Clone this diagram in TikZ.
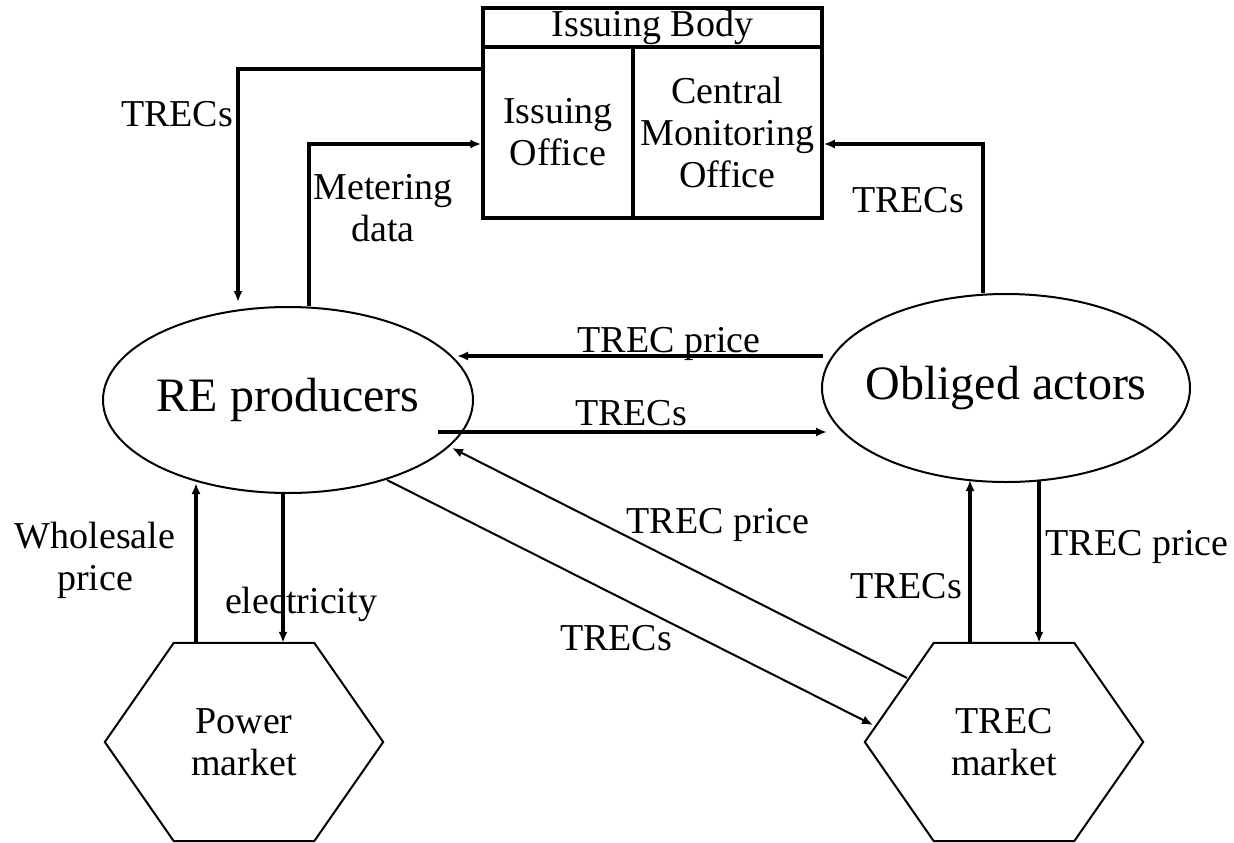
\documentclass[tikz,border=0pt]{standalone}
\usepackage{fontspec}
\setmainfont{Liberation Serif}
\usetikzlibrary{arrows.meta,shapes.geometric}
\begin{document}
\begin{tikzpicture}[x=1pt,y=-1pt,
  lbl/.style={font=\fontsize{38}{42}\selectfont, inner sep=0pt, align=center},
  cell/.style={draw, line width=3.5pt, rectangle, inner sep=0pt, align=center,
    font=\fontsize{38}{42}\selectfont},
  actor/.style={draw, line width=2pt, ellipse, inner sep=0pt,
    label={[font=\fontsize{48}{52}\selectfont, inner sep=0pt]center:#1}},
  mkt/.style={rectangle, inner sep=0pt, align=center, minimum width=278pt,
    minimum height=198pt, font=\fontsize{38}{42}\selectfont},
  hexline/.style={draw, line width=2pt, line join=miter},
  arr/.style={line width=3.5pt, -{Latex[length=11pt,width=9pt]}},
  darr/.style={line width=2pt, -{Latex[length=11pt,width=9pt]}}
]
\useasboundingbox (0,0) rectangle (1234,843);

% Issuing Body
\node[cell, minimum width=339pt, minimum height=210pt] (ib) at (652.5,113) {};
\node[cell, minimum width=339pt, minimum height=39pt] (ibhead) at (652.5,27.5) {Issuing Body};
\node[cell, minimum width=150pt, minimum height=171pt] (io) at (558,132.5) {Issuing\\Office};
\node[cell, minimum width=189pt, minimum height=171pt] (cmo) at (727.5,132.5) {Central\\Monitoring\\Office};

% Actors
\node[actor={RE producers}, minimum width=370pt, minimum height=186pt] (re) at (288,400) {};
\node[actor={Obliged actors}, minimum width=368pt, minimum height=188pt] (obl) at (1006,388) {};

% Markets
\node[mkt] (pm) at (244,742) {Power\\market};
\node[mkt] (tm) at (1004,742) {TREC\\market};
\foreach \m in {pm,tm}{
  \draw[hexline] ([xshift=69pt]\m.north west) -- ([xshift=-69pt]\m.north east)
    -- (\m.east) -- ([xshift=-69pt]\m.south east) -- ([xshift=69pt]\m.south west)
    -- (\m.west) -- cycle;
}

% Connectors to/from Issuing Body
\draw[arr] ([yshift=44pt]ib.west) -| ([xshift=-50pt,yshift=4pt]re.north);
\draw[arr] ([xshift=21pt]re.north) |- ([yshift=-31pt]ib.west);
\draw[arr] ([xshift=-23pt]obl.north) |- ([yshift=-31pt]ib.east);

% Between actors
\draw[arr] ([shift={(-183pt,32pt)}]obl.center) -- ([shift={(169pt,44pt)}]re.center);
\draw[arr] ([shift={(150pt,-32pt)}]re.center) -- ([shift={(-179pt,-44pt)}]obl.center);

% Diagonals
\draw[darr] ([shift={(-97pt,64pt)}]tm.center) -- ([shift={(164pt,-48pt)}]re.center);
\draw[darr] ([shift={(99pt,-80pt)}]re.center) -- ([shift={(-131pt,17pt)}]tm.center);

% Power market
\draw[arr] ([xshift=-48pt]pm.north) -- ([shift={(-92pt,-83pt)}]re.center);
\draw[arr] ([xshift=-5pt]re.south) -- ([xshift=39pt]pm.north);

% TREC market
\draw[arr] ([xshift=-34pt]tm.north) -- ([shift={(-36pt,-92pt)}]obl.center);
\draw[arr] ([shift={(33pt,-92pt)}]obl.center) -- ([xshift=35pt]tm.north);

% Labels
\node[lbl, anchor=base] (l1) at (177,126) {TRECs};
\node[lbl] (l2) at (383,208) {Metering\\data};
\node[lbl, anchor=base] (l3) at (908,212) {TRECs};
\node[lbl, anchor=base] (l4) at (669,352) {TREC price};
\node[lbl, anchor=base] (l5) at (631,425) {TRECs};
\node[lbl, anchor=base] (l6) at (718,533) {TREC price};
\node[lbl, anchor=base] (l7) at (616,650) {TRECs};
\node[lbl, anchor=base] (l8) at (906,598) {TRECs};
\node[lbl, anchor=base] (l9) at (1137,555) {TREC price};
\node[lbl] (l10) at (95,560) {Wholesale\\price};
\node[lbl, anchor=base] (l11) at (301,613) {electricity};
\end{tikzpicture}
\end{document}
